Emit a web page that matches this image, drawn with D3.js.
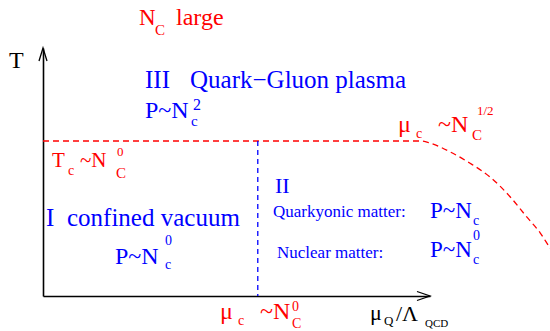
<!DOCTYPE html>
<html>
<head>
<meta charset="utf-8">
<script src="https://cdn.jsdelivr.net/npm/d3@7"></script>
<style>
  body { margin: 0; background: #fff; }
  svg text { font-family: "Liberation Serif", "DejaVu Serif", serif; }
</style>
</head>
<body>
<div id="chart"></div>
<script>
// phase diagram data (mu_Q / Lambda_QCD , T / T_c)
var tcLevel = 1.0;            // deconfinement temperature
var muCrossover = 2.22;       // mu_c ~ N_c^0 (nuclear -> quarkyonic)
// dashed boundary of the quark-gluon plasma
var boundaryMu = [0, 3.9, 4.0, 4.21, 4.41, 4.62, 4.83, 5.0, 5.14, 5.24, 5.34];
var boundaryT  = [1, 1, 0.987, 0.929, 0.858, 0.768, 0.639, 0.51, 0.406, 0.31, 0.22];
var xDomain = [0, 4];
var yDomain = [0, 1.6];

var svgWidth = 550, svgHeight = 331;
var red = "#ff0000", blue = "#0000ff";

var svg = d3.select("#chart")
  .append("svg")
    .attr("width", svgWidth)
    .attr("height", svgHeight);

var x = d3.scaleLinear().domain(xDomain).range([43, 430]);
var y = d3.scaleLinear().domain(yDomain).range([296, 48]);

// axes, no ticks
svg.append("g")
  .attr("transform", "translate(0," + y(0) + ")")
  .call(d3.axisBottom(x).tickValues([]).tickSizeOuter(0))
  .select(".domain").attr("stroke-width", 1.6);
svg.append("g")
  .attr("transform", "translate(" + x(0) + ",0)")
  .call(d3.axisLeft(y).tickValues([]).tickSizeOuter(0))
  .select(".domain").attr("stroke-width", 1.6);

// open arrow heads
svg.append("path")
  .attr("d", "M" + (x(xDomain[1]) - 13) + "," + (y(0) - 4.5) + "L" + x(xDomain[1]) + "," + y(0) + "L" + (x(xDomain[1]) - 13) + "," + (y(0) + 4.5))
  .attr("fill", "none").attr("stroke", "#000").attr("stroke-width", 1.3);
svg.append("path")
  .attr("d", "M" + (x(0) - 4) + "," + (y(yDomain[1]) + 13) + "L" + x(0) + "," + y(yDomain[1]) + "L" + (x(0) + 4) + "," + (y(yDomain[1]) + 13))
  .attr("fill", "none").attr("stroke", "#000").attr("stroke-width", 1.3);

// red dashed phase boundary
var boundary = boundaryMu.map(function(m, i) { return [m, boundaryT[i]]; });
svg.append("path")
  .datum(boundary)
  .attr("fill", "none")
  .attr("stroke", red)
  .attr("stroke-width", 1.3)
  .attr("stroke-dasharray", "6,4")
  .attr("d", d3.line().x(d => x(d[0])).y(d => y(d[1])).curve(d3.curveMonotoneX));

// blue dashed line nuclear / quarkyonic
svg.append("line")
  .attr("x1", x(muCrossover)).attr("x2", x(muCrossover))
  .attr("y1", y(tcLevel)).attr("y2", y(0))
  .attr("stroke", blue)
  .attr("stroke-width", 1.3)
  .attr("stroke-dasharray", "5,4");

// text helper: [text, x, baseline, size]
function label(color, parts) {
  parts.forEach(function(p) {
    svg.append("text")
      .attr("x", p[1]).attr("y", p[2])
      .attr("font-family", "Liberation Serif, DejaVu Serif, serif")
      .attr("font-size", p[3] + "px")
      .attr("fill", color)
      .text(p[0]);
  });
}

label(red, [["N", 139, 25, 23], ["C", 155, 35, 15], ["large", 176, 25, 24]]);
label("#000", [["T", 9, 68, 24]]);

label(blue, [["III", 145, 88, 25], ["Quark\u2212Gluon plasma", 190, 88, 25],
  ["P~N", 145, 118, 24], ["c", 191, 126, 15], ["2", 193, 110, 16]]);

label(red, [["T", 52, 167, 21], ["c", 68, 175, 14], ["~N", 80, 167, 21],
  ["0", 117, 156, 13], ["C", 116, 178, 15]]);

label(blue, [["I", 46, 226, 25], ["confined vacuum", 67, 226, 25],
  ["P~N", 115, 264, 24], ["0", 165, 245, 14], ["c", 165, 269, 14]]);

label(blue, [["II", 275, 193, 22], ["Quarkyonic matter:", 273, 217, 17],
  ["P~N", 430, 218, 23], ["c", 473, 225, 14],
  ["Nuclear matter:", 277, 258, 17],
  ["P~N", 430, 257, 23], ["0", 473, 240, 14], ["c", 473, 264, 14]]);

label(red, [["\u03bc", 398, 132, 24], ["c", 416, 138, 14], ["~N", 438, 132, 24],
  ["C", 472, 140, 15], ["1/2", 477, 115, 13]]);

label(red, [["\u03bc", 220, 319, 24], ["c", 238, 325, 14], ["~N", 260, 319, 24],
  ["0", 292, 311, 14], ["C", 292, 328, 14]]);

label("#000", [["\u03bc", 370, 320, 22], ["Q", 384, 325, 13], ["/\u039b", 396, 321, 22],
  ["QCD", 425, 327, 11]]);
</script>
</body>
</html>
